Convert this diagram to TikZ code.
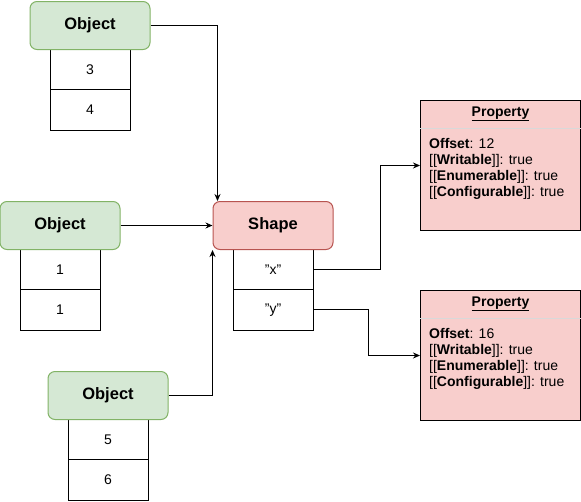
\documentclass[tikz,border=0pt]{standalone}
\usepackage{fontspec}
\setmainfont{Liberation Sans}
\usetikzlibrary{positioning,arrows.meta}
\definecolor{objfill}{HTML}{D5E8D4}
\definecolor{objline}{HTML}{82B366}
\definecolor{shpfill}{HTML}{F8CECC}
\definecolor{shpline}{HTML}{B85450}
\begin{document}
\begin{tikzpicture}[x=1pt,y=-1pt,
    objbox/.style={draw=objline,line width=1pt,fill=objfill,rounded corners=7pt,minimum width=120pt,minimum height=48pt,font=\fontsize{16.5}{19}\selectfont\bfseries},
    shpbox/.style={draw=shpline,line width=1pt,fill=shpfill,rounded corners=7pt,minimum width=120pt,minimum height=48pt,font=\fontsize{16.5}{19}\selectfont\bfseries},
    cell/.style={draw,line width=1pt,outer sep=0pt,minimum width=80pt,minimum height=40.5pt,font=\fontsize{14}{16}\selectfont,anchor=north},
    propbox/.style={draw,line width=1pt,fill=shpfill,minimum width=160pt,minimum height=130pt,anchor=north west},
    proptext/.style={anchor=north west,align=left,font=\fontsize{14}{16}\selectfont,inner sep=0pt},
    link/.style={-{Stealth[length=7pt,width=6pt]},line width=0.9pt}]
\useasboundingbox (0,0) rectangle (581,501);
% objects
\node[cell] (a1) at (90,49) {3};
\node[cell,below=0pt of a1] (a2) {4};
\node[objbox] (o1) at (90,25.5) {Object};
\node[cell] (b1) at (60,249) {1};
\node[cell,below=0pt of b1] (b2) {1};
\node[objbox] (o2) at (60,225.5) {Object};
\node[cell] (c1) at (108,419) {5};
\node[cell,below=0pt of c1] (c2) {6};
\node[objbox] (o3) at (108,395.5) {Object};
% shape
\node[cell] (sx) at (273,249) {"x"};
\node[cell,below=0pt of sx] (sy) {"y"};
\node[shpbox] (sh) at (273,225.5) {Shape};
% properties
\node[propbox] (p1) at (420,100) {};
\node[font=\fontsize{14}{16}\selectfont\bfseries] at ([yshift=-14pt]p1.north) {\underline{Property}};
\draw[white!70!gray,line width=1pt] ([yshift=-28pt]p1.north west) -- ([yshift=-28pt]p1.north east);
\node[proptext] at ([xshift=9pt,yshift=-38pt]p1.north west)
  {\textbf{Offset}: 12\\ {[[}\textbf{Writable}]]: true\\ {[[}\textbf{Enumerable}]]: true\\ {[[}\textbf{Configurable}]]: true};
\node[propbox] (p2) at (420,290) {};
\node[font=\fontsize{14}{16}\selectfont\bfseries] at ([yshift=-14pt]p2.north) {\underline{Property}};
\draw[white!70!gray,line width=1pt] ([yshift=-28pt]p2.north west) -- ([yshift=-28pt]p2.north east);
\node[proptext] at ([xshift=9pt,yshift=-38pt]p2.north west)
  {\textbf{Offset}: 16\\ {[[}\textbf{Writable}]]: true\\ {[[}\textbf{Enumerable}]]: true\\ {[[}\textbf{Configurable}]]: true};
% links
\draw[link] (o1.east) -| ([xshift=5pt]sh.north west);
\draw[link] (o2.east) -- (sh.west);
\draw[link] (o3.east) -| (sh.south west);
\draw[link] (sx.east) -- ++(67,0) |- (p1.west);
\draw[link] (sy.east) -- ++(55,0) |- (p2.west);
\end{tikzpicture}
\end{document}
